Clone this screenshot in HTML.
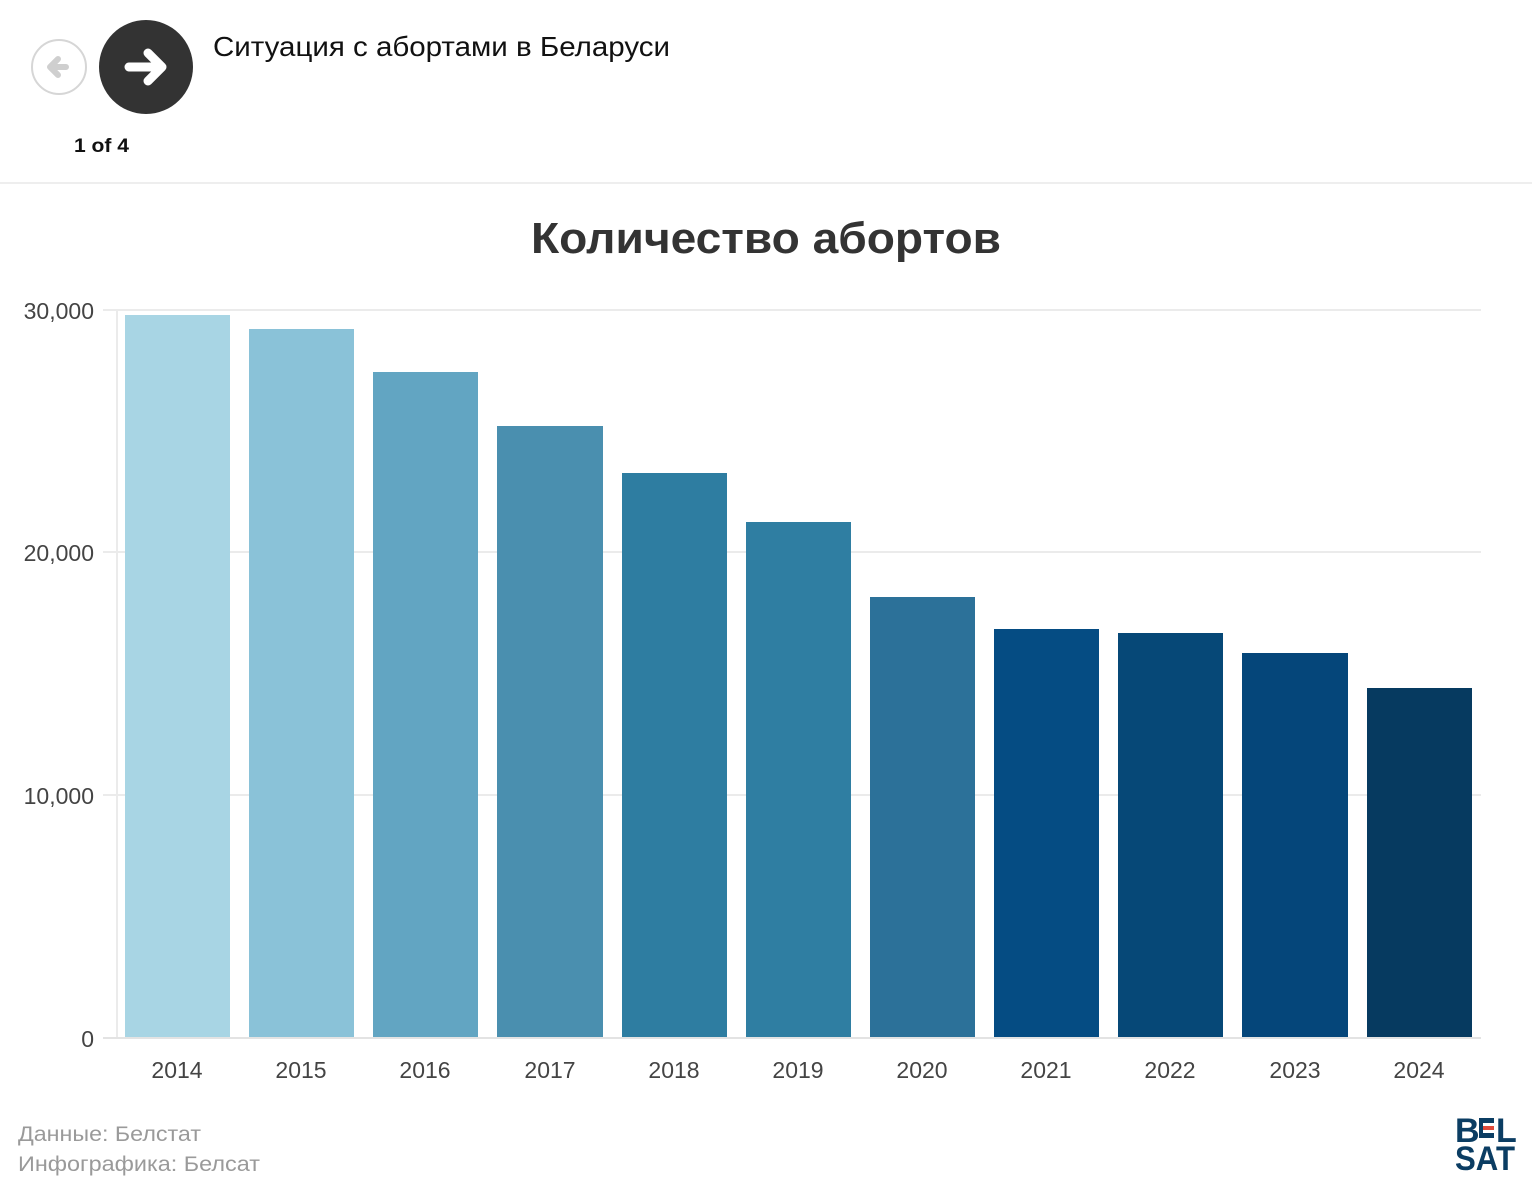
<!DOCTYPE html>
<html><head><meta charset="utf-8"><style>
body{margin:0;background:#fff;width:1532px;height:1194px;overflow:hidden;font-family:"Liberation Sans","DejaVu Sans",sans-serif}
</style></head><body>
<svg width="1532" height="1194" viewBox="0 0 1532 1194" xmlns="http://www.w3.org/2000/svg" font-family="Liberation Sans, DejaVu Sans, sans-serif">
<circle cx="59" cy="67" r="27" fill="#fff" stroke="#d6d6d6" stroke-width="2"/>
<path d="M66 67 H51 M58 59 L50 67 L58 75" stroke="#cfcfcf" stroke-width="6" fill="none" stroke-linecap="round" stroke-linejoin="round"/>
<circle cx="146" cy="67" r="47" fill="#333"/>
<path d="M129 67 H160 M148 53 L162 67 L148 81" stroke="#fff" stroke-width="9" fill="none" stroke-linecap="round" stroke-linejoin="round"/>
<text x="213" y="56" font-size="28" fill="#111" textLength="457" lengthAdjust="spacingAndGlyphs">Ситуация с абортами в Беларуси</text>
<text x="74" y="152" font-size="19" font-weight="bold" fill="#111" textLength="55" lengthAdjust="spacingAndGlyphs">1 of 4</text>
<rect x="0" y="182" width="1532" height="2" fill="#eeeeee"/>
<text x="766" y="253" font-size="44" font-weight="bold" fill="#333" text-anchor="middle" textLength="470" lengthAdjust="spacingAndGlyphs">Количество абортов</text>
<g stroke="#ebebeb" stroke-width="2">
<line x1="103" y1="310" x2="1481" y2="310"/><line x1="103" y1="552" x2="1481" y2="552"/><line x1="103" y1="795" x2="1481" y2="795"/>
<line x1="117" y1="310" x2="117" y2="1038"/>
</g>
<g font-size="23" fill="#444" text-anchor="end">
<text x="94" y="319">30,000</text><text x="94" y="561">20,000</text><text x="94" y="804">10,000</text><text x="94" y="1047">0</text>
</g>
<g>
<rect x="125" y="315" width="105" height="723" fill="#a8d5e4"/>
<rect x="249" y="329" width="105" height="709" fill="#8ac2d8"/>
<rect x="373" y="372" width="105" height="666" fill="#62a5c2"/>
<rect x="497" y="426" width="106" height="612" fill="#4a8faf"/>
<rect x="622" y="473" width="105" height="565" fill="#2e7da1"/>
<rect x="746" y="522" width="105" height="516" fill="#2f7ea2"/>
<rect x="870" y="597" width="105" height="441" fill="#2c7199"/>
<rect x="994" y="629" width="105" height="409" fill="#054c83"/>
<rect x="1118" y="633" width="105" height="405" fill="#064877"/>
<rect x="1242" y="653" width="106" height="385" fill="#05467a"/>
<rect x="1367" y="688" width="105" height="350" fill="#063a60"/>
</g>
<line x1="103" y1="1038" x2="1481" y2="1038" stroke="#e3e3e3" stroke-width="2"/>
<g font-size="23" fill="#444" text-anchor="middle">
<text x="177" y="1078">2014</text><text x="301" y="1078">2015</text><text x="425" y="1078">2016</text><text x="550" y="1078">2017</text><text x="674" y="1078">2018</text><text x="798" y="1078">2019</text><text x="922" y="1078">2020</text><text x="1046" y="1078">2021</text><text x="1170" y="1078">2022</text><text x="1295" y="1078">2023</text><text x="1419" y="1078">2024</text>
</g>
<text x="18" y="1141" font-size="21" fill="#9a9a9a" textLength="183" lengthAdjust="spacingAndGlyphs">Данные: Белстат</text>
<text x="18" y="1171" font-size="21" fill="#9a9a9a" textLength="242" lengthAdjust="spacingAndGlyphs">Инфографика: Белсат</text>
<g font-size="34" font-weight="bold" fill="#0b3d63">
<text x="1455" y="1142">B</text><text x="1455" y="1170" textLength="60" lengthAdjust="spacingAndGlyphs">SAT</text>
</g>
<rect x="1479" y="1118" width="15" height="5" fill="#0b3d63"/><rect x="1479" y="1126" width="15" height="4" fill="#e04a3a"/><rect x="1479" y="1133" width="15" height="5" fill="#0b3d63"/><rect x="1479" y="1118" width="4" height="20" fill="#0b3d63"/>
<text x="1496" y="1142" font-size="34" font-weight="bold" fill="#0b3d63">L</text>
</svg>
</body></html>
